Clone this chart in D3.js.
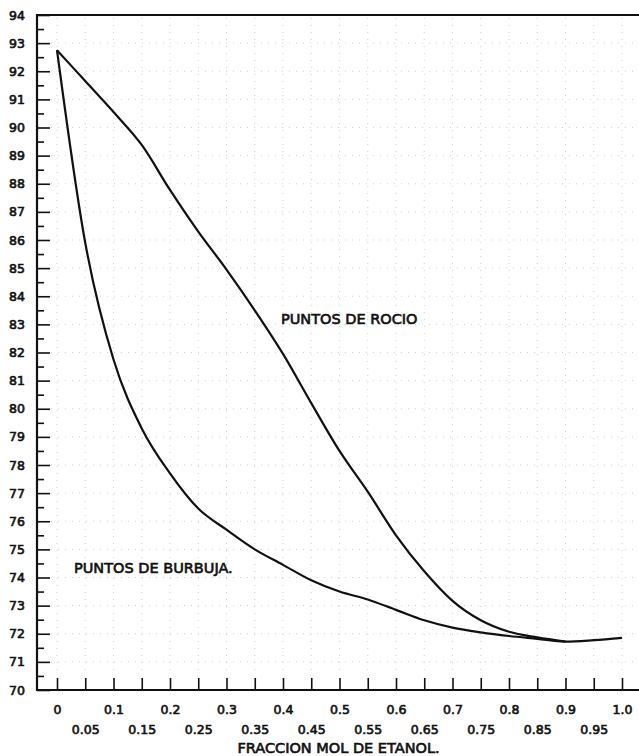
<!DOCTYPE html>
<html>
<head>
<meta charset="utf-8">
<script src="https://cdn.jsdelivr.net/npm/d3@7"></script>
<style>
  html, body { margin: 0; padding: 0; background: #fff; }
  svg { display: block; }
  text { font-family: "DejaVu Sans", sans-serif; fill: #111; stroke: #111; stroke-width: 0.65px; }
</style>
</head>
<body>
<script>
// Mole fraction of ethanol (liquid / vapour), 0 to 1 in steps of 0.05
const fractions = [0, 0.05, 0.1, 0.15, 0.2, 0.25, 0.3, 0.35, 0.4, 0.45, 0.5,
                   0.55, 0.6, 0.65, 0.7, 0.75, 0.8, 0.85, 0.9, 0.95, 1.0];

// Bubble-point temperatures (°C)
const bubbleTemps = [92.75, 85.9, 81.75, 79.3, 77.7, 76.45, 75.7, 75.0, 74.45, 73.9, 73.5,
                     73.22, 72.85, 72.48, 72.22, 72.05, 71.92, 71.82, 71.72, 71.77, 71.85];

// Dew-point temperatures (°C), joining the bubble curve at 0.9
const dewFractions = fractions.slice(0, 19);
const dewTemps = [92.75, 91.65, 90.55, 89.38, 87.78, 86.3, 84.95, 83.5, 81.95, 80.2, 78.5,
                  77.05, 75.5, 74.22, 73.17, 72.48, 72.07, 71.87, 71.72];

// Axis tick values and labels
const yMajorTicks = d3.range(70, 95, 1);
const yMinorTicks = d3.range(70.5, 94, 1);
const xMajorTicks = [0, 0.1, 0.2, 0.3, 0.4, 0.5, 0.6, 0.7, 0.8, 0.9, 1.0];
const xMajorLabels = ["0", "0.1", "0.2", "0.3", "0.4", "0.5", "0.6", "0.7", "0.8", "0.9", "1.0"];
const xMinorTicks = [0.05, 0.15, 0.25, 0.35, 0.45, 0.55, 0.65, 0.75, 0.85, 0.95];
const xMinorLabels = ["0.05", "0.15", "0.25", "0.35", "0.45", "0.55", "0.65", "0.75", "0.85", "0.95"];

const W = 639, H = 756;
const frameLeft = 37, frameTop = 15, frameBottom = 690;

const x = d3.scaleLinear().domain([0, 1]).range([57, 622]);
const y = d3.scaleLinear().domain([70, 94]).range([frameBottom, frameTop]);

const svg = d3.select("body").append("svg").attr("width", W).attr("height", H);

// faint dotted grid of the paper
const grid = svg.append("g").attr("stroke", "#cfcfcf").attr("stroke-width", 1)
  .attr("stroke-dasharray", "1,6");
grid.selectAll("line.h").data(yMajorTicks.slice(1, -1)).join("line")
  .attr("x1", frameLeft + 14).attr("x2", W)
  .attr("y1", d => y(d)).attr("y2", d => y(d));
grid.selectAll("line.v").data(fractions).join("line")
  .attr("x1", d => x(d)).attr("x2", d => x(d))
  .attr("y1", frameTop + 3).attr("y2", frameBottom - 14);

// Y axis: long ticks on whole degrees, short ticks on half degrees
const yAxis = svg.append("g").attr("transform", `translate(${frameLeft},0)`)
  .call(d3.axisLeft(y).tickValues(yMajorTicks).tickSize(-13).tickPadding(12).tickFormat(d3.format("d")));
const yAxisMinor = svg.append("g").attr("transform", `translate(${frameLeft},0)`)
  .call(d3.axisLeft(y).tickValues(yMinorTicks).tickSize(-7).tickFormat(""));

// X axis: ticks every 0.05, labels in two staggered rows
const xAxisMajor = svg.append("g").attr("transform", `translate(0,${frameBottom})`)
  .call(d3.axisBottom(x).tickValues(xMajorTicks).tickSize(-12).tickPadding(15)
    .tickFormat((d, i) => xMajorLabels[i]));
const xAxisMinor = svg.append("g").attr("transform", `translate(0,${frameBottom})`)
  .call(d3.axisBottom(x).tickValues(xMinorTicks).tickSize(-12).tickPadding(35)
    .tickFormat((d, i) => xMinorLabels[i]));

[yAxis, yAxisMinor, xAxisMajor, xAxisMinor].forEach(g => {
  g.select(".domain").remove();
  g.selectAll(".tick line").attr("stroke", "#111").attr("stroke-width", 1.6);
  g.selectAll("text").attr("font-size", 12.5).attr("font-family", "DejaVu Sans, sans-serif")
    .attr("fill", "#111");
});

// Frame: left, top and bottom rules
const frame = svg.append("g").attr("stroke", "#111").attr("stroke-width", 2.2).attr("fill", "none");
frame.append("line").attr("x1", frameLeft).attr("x2", frameLeft).attr("y1", frameTop - 1).attr("y2", frameBottom + 1);
frame.append("line").attr("x1", frameLeft - 1).attr("x2", W).attr("y1", frameTop).attr("y2", frameTop);
frame.append("line").attr("x1", frameLeft - 1).attr("x2", W).attr("y1", frameBottom).attr("y2", frameBottom);

// Curves
const line = d3.line().x(d => x(d[0])).y(d => y(d[1])).curve(d3.curveMonotoneX);
const bubble = fractions.map((f, i) => [f, bubbleTemps[i]]);
const dew = dewFractions.map((f, i) => [f, dewTemps[i]]);

svg.append("path").datum(dew).attr("d", line)
  .attr("fill", "none").attr("stroke", "#111").attr("stroke-width", 2.2).attr("stroke-linejoin", "round");
svg.append("path").datum(bubble).attr("d", line)
  .attr("fill", "none").attr("stroke", "#111").attr("stroke-width", 2.2).attr("stroke-linejoin", "round");

// Curve labels
svg.append("text").attr("x", 281).attr("y", 324).attr("font-size", 14.5).text("PUNTOS DE ROCIO");
svg.append("text").attr("x", 74).attr("y", 573).attr("font-size", 14.5).text("PUNTOS DE BURBUJA.");

// Axis title
svg.append("text").attr("x", 338.5).attr("y", 753).attr("text-anchor", "middle")
  .attr("font-size", 14.5).text("FRACCION MOL DE ETANOL.");
</script>
</body>
</html>
